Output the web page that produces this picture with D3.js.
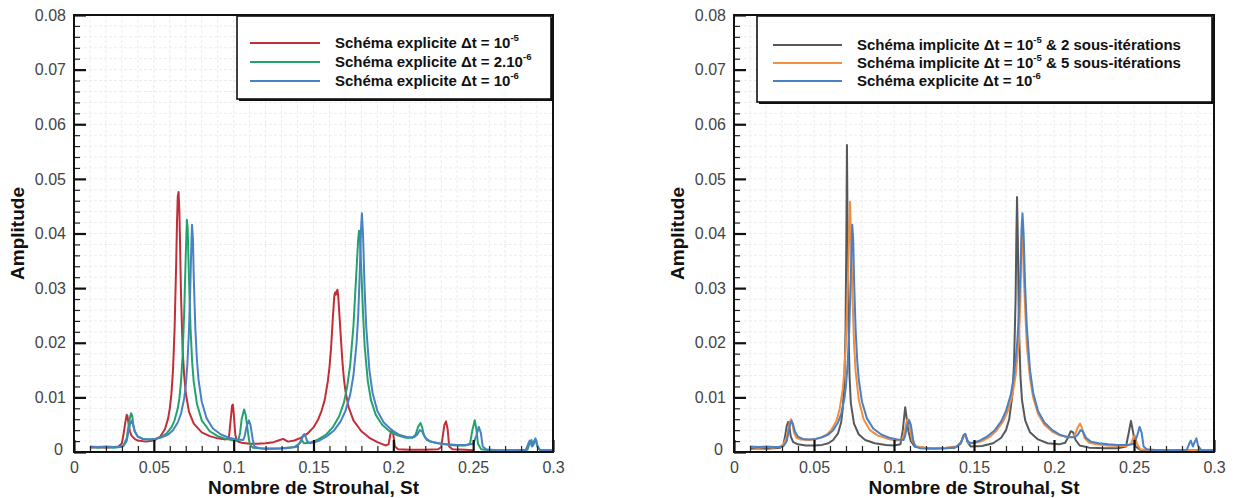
<!DOCTYPE html>
<html><head><meta charset="utf-8">
<script src="https://cdn.jsdelivr.net/npm/d3@7"></script>
<style>html,body{margin:0;padding:0;background:#fff;}svg{display:block;font-family:"Liberation Sans",Arial,sans-serif;}</style>
</head><body><svg id="c" width="1235" height="498"></svg>
<script>
// ---------- DATA ----------
const xTickValues = [0, 0.05, 0.1, 0.15, 0.2, 0.25, 0.3];
const xTickLabels = ["0", "0.05", "0.1", "0.15", "0.2", "0.25", "0.3"];
const yTickValues = [0, 0.01, 0.02, 0.03, 0.04, 0.05, 0.06, 0.07, 0.08];
const yTickLabels = ["0", "0.01", "0.02", "0.03", "0.04", "0.05", "0.06", "0.07", "0.08"];
const xTitle = "Nombre de Strouhal, St";
const yTitle = "Amplitude";

// Left panel: explicit scheme, Δt = 1e-5
const explicit1e5 = [[0.010,0.0008],[0.015,0.0009],[0.020,0.0008],[0.025,0.0009],[0.028,0.0010],[0.030,0.0016],[0.031,0.0032],[0.032,0.0052],[0.033,0.0068],[0.0335,0.0066],[0.034,0.0055],[0.035,0.0038],[0.036,0.0030],[0.038,0.0024],[0.040,0.0021],[0.045,0.0019],[0.050,0.0021],[0.054,0.0028],[0.057,0.0042],[0.059,0.0062],[0.060,0.0080],[0.061,0.0106],[0.062,0.0150],[0.063,0.0225],[0.064,0.0345],[0.0645,0.0420],[0.065,0.0468],[0.0655,0.0476],[0.066,0.0440],[0.0665,0.0370],[0.067,0.0290],[0.068,0.0190],[0.069,0.0140],[0.070,0.0108],[0.072,0.0074],[0.075,0.0052],[0.080,0.0036],[0.085,0.0029],[0.090,0.0025],[0.095,0.0023],[0.097,0.0026],[0.098,0.0055],[0.099,0.0085],[0.0995,0.0087],[0.100,0.0072],[0.101,0.0032],[0.102,0.0020],[0.105,0.0017],[0.110,0.0015],[0.115,0.0015],[0.120,0.0016],[0.125,0.0018],[0.128,0.0021],[0.131,0.0024],[0.134,0.0019],[0.138,0.0021],[0.142,0.0026],[0.146,0.0033],[0.150,0.0045],[0.153,0.0060],[0.155,0.0075],[0.157,0.0095],[0.159,0.0130],[0.160,0.0155],[0.161,0.0190],[0.162,0.0240],[0.163,0.0285],[0.1635,0.0292],[0.164,0.0288],[0.1645,0.0294],[0.165,0.0297],[0.1655,0.0285],[0.166,0.0262],[0.167,0.0215],[0.168,0.0170],[0.169,0.0135],[0.170,0.0112],[0.172,0.0082],[0.175,0.0058],[0.180,0.0038],[0.185,0.0026],[0.190,0.0018],[0.195,0.0012],[0.197,0.0014],[0.198,0.0030],[0.199,0.0041],[0.200,0.0032],[0.201,0.0010],[0.203,0.0005],[0.210,0.0004],[0.220,0.0004],[0.228,0.0005],[0.230,0.0009],[0.231,0.0030],[0.232,0.0050],[0.233,0.0056],[0.234,0.0042],[0.235,0.0010],[0.237,0.0005],[0.245,0.0004],[0.250,0.0003]];

// Left panel: explicit scheme, Δt = 2e-6
const explicit2e6 = [[0.010,0.0009],[0.015,0.0008],[0.020,0.0009],[0.025,0.0008],[0.029,0.0009],[0.031,0.0012],[0.033,0.0025],[0.034,0.0045],[0.035,0.0062],[0.0357,0.0071],[0.0365,0.0066],[0.037,0.0052],[0.038,0.0038],[0.040,0.0028],[0.043,0.0024],[0.047,0.0023],[0.051,0.0024],[0.055,0.0028],[0.058,0.0034],[0.061,0.0045],[0.063,0.0058],[0.065,0.0080],[0.066,0.0098],[0.067,0.0128],[0.068,0.0175],[0.069,0.0255],[0.070,0.0360],[0.0707,0.0425],[0.0712,0.0410],[0.072,0.0320],[0.073,0.0225],[0.074,0.0165],[0.075,0.0128],[0.077,0.0088],[0.080,0.0058],[0.085,0.0038],[0.090,0.0029],[0.095,0.0024],[0.100,0.0021],[0.103,0.0022],[0.104,0.0035],[0.105,0.0060],[0.1065,0.0078],[0.1075,0.0068],[0.109,0.0035],[0.110,0.0015],[0.112,0.0008],[0.120,0.0006],[0.130,0.0007],[0.138,0.0009],[0.141,0.0015],[0.1425,0.0023],[0.144,0.0016],[0.148,0.0017],[0.153,0.0023],[0.158,0.0032],[0.162,0.0045],[0.166,0.0065],[0.169,0.0090],[0.171,0.0118],[0.173,0.0160],[0.175,0.0230],[0.1765,0.0310],[0.178,0.0390],[0.1785,0.0405],[0.179,0.0395],[0.180,0.0330],[0.181,0.0255],[0.182,0.0195],[0.184,0.0130],[0.186,0.0095],[0.189,0.0068],[0.193,0.0050],[0.198,0.0037],[0.203,0.0030],[0.208,0.0026],[0.212,0.0026],[0.214,0.0032],[0.2155,0.0046],[0.217,0.0053],[0.218,0.0046],[0.219,0.0032],[0.221,0.0022],[0.225,0.0018],[0.230,0.0015],[0.235,0.0013],[0.240,0.0012],[0.245,0.0012],[0.248,0.0015],[0.2495,0.0040],[0.251,0.0058],[0.252,0.0042],[0.253,0.0015],[0.255,0.0005],[0.260,0.0003],[0.270,0.0003],[0.280,0.0003],[0.284,0.0004],[0.2855,0.0018],[0.2865,0.0022],[0.2875,0.0012],[0.2885,0.0018],[0.2895,0.0022],[0.2905,0.0008],[0.292,0.0003],[0.300,0.0003]];

// Both panels: explicit scheme, Δt = 1e-6
const explicit1e6 = [[0.010,0.0010],[0.015,0.0009],[0.020,0.0010],[0.025,0.0009],[0.029,0.0009],[0.031,0.0011],[0.033,0.0020],[0.034,0.0035],[0.035,0.0050],[0.036,0.0057],[0.037,0.0050],[0.038,0.0038],[0.040,0.0028],[0.043,0.0024],[0.047,0.0023],[0.051,0.0024],[0.055,0.0027],[0.059,0.0032],[0.062,0.0040],[0.065,0.0054],[0.067,0.0070],[0.069,0.0098],[0.070,0.0122],[0.071,0.0160],[0.072,0.0222],[0.073,0.0320],[0.0735,0.0380],[0.0739,0.0416],[0.0745,0.0390],[0.075,0.0320],[0.076,0.0225],[0.077,0.0168],[0.078,0.0132],[0.080,0.0092],[0.083,0.0062],[0.087,0.0043],[0.092,0.0032],[0.097,0.0026],[0.102,0.0023],[0.106,0.0022],[0.107,0.0030],[0.108,0.0046],[0.1095,0.0058],[0.1105,0.0050],[0.112,0.0022],[0.113,0.0010],[0.116,0.0007],[0.125,0.0006],[0.133,0.0007],[0.139,0.0009],[0.142,0.0018],[0.1435,0.0031],[0.1445,0.0033],[0.146,0.0020],[0.148,0.0016],[0.153,0.0020],[0.158,0.0028],[0.163,0.0040],[0.167,0.0056],[0.170,0.0075],[0.173,0.0105],[0.175,0.0140],[0.177,0.0200],[0.178,0.0250],[0.179,0.0330],[0.1798,0.0410],[0.1803,0.0437],[0.181,0.0400],[0.182,0.0300],[0.183,0.0230],[0.185,0.0150],[0.187,0.0108],[0.190,0.0075],[0.194,0.0054],[0.199,0.0040],[0.204,0.0031],[0.209,0.0027],[0.213,0.0027],[0.215,0.0032],[0.2165,0.0040],[0.218,0.0038],[0.220,0.0026],[0.223,0.0019],[0.228,0.0016],[0.234,0.0014],[0.240,0.0013],[0.246,0.0013],[0.250,0.0015],[0.252,0.0030],[0.2535,0.0046],[0.2548,0.0035],[0.256,0.0010],[0.258,0.0005],[0.265,0.0003],[0.275,0.0003],[0.283,0.0004],[0.2845,0.0015],[0.2855,0.0021],[0.2868,0.0010],[0.288,0.0019],[0.289,0.0025],[0.290,0.0012],[0.292,0.0003],[0.300,0.0003]];

// Right panel: implicit scheme, Δt = 1e-5, 2 sub-iterations
const implicit2 = [[0.010,0.0006],[0.015,0.0007],[0.020,0.0006],[0.025,0.0007],[0.029,0.0008],[0.031,0.0015],[0.032,0.0030],[0.033,0.0048],[0.0338,0.0055],[0.0345,0.0048],[0.0355,0.0028],[0.037,0.0018],[0.040,0.0014],[0.045,0.0012],[0.050,0.0012],[0.055,0.0013],[0.059,0.0016],[0.062,0.0022],[0.065,0.0034],[0.067,0.0055],[0.068,0.0080],[0.069,0.0130],[0.0697,0.0220],[0.0702,0.0380],[0.0706,0.0562],[0.0710,0.0400],[0.0715,0.0240],[0.0722,0.0140],[0.073,0.0090],[0.075,0.0052],[0.078,0.0032],[0.082,0.0022],[0.088,0.0016],[0.095,0.0013],[0.100,0.0012],[0.104,0.0014],[0.1055,0.0040],[0.107,0.0082],[0.108,0.0060],[0.109,0.0038],[0.1105,0.0020],[0.113,0.0010],[0.120,0.0007],[0.130,0.0007],[0.138,0.0008],[0.1415,0.0015],[0.1435,0.0030],[0.1445,0.0033],[0.146,0.0018],[0.148,0.0010],[0.155,0.0011],[0.162,0.0016],[0.167,0.0026],[0.170,0.0040],[0.172,0.0060],[0.174,0.0105],[0.175,0.0160],[0.176,0.0280],[0.1765,0.0400],[0.1769,0.0467],[0.1774,0.0390],[0.178,0.0240],[0.179,0.0140],[0.180,0.0095],[0.182,0.0058],[0.185,0.0036],[0.190,0.0023],[0.196,0.0016],[0.203,0.0014],[0.207,0.0017],[0.209,0.0028],[0.2105,0.0038],[0.212,0.0036],[0.2135,0.0022],[0.216,0.0012],[0.222,0.0008],[0.232,0.0007],[0.240,0.0007],[0.245,0.0010],[0.2465,0.0032],[0.2481,0.0057],[0.2495,0.0035],[0.251,0.0010],[0.254,0.0004],[0.262,0.0003],[0.272,0.0003],[0.282,0.0003],[0.290,0.0003],[0.300,0.0003]];

// Right panel: implicit scheme, Δt = 1e-5, 5 sub-iterations
const implicit5 = [[0.010,0.0009],[0.015,0.0008],[0.020,0.0009],[0.025,0.0008],[0.029,0.0010],[0.031,0.0014],[0.033,0.0028],[0.034,0.0045],[0.035,0.0056],[0.0357,0.0060],[0.0365,0.0052],[0.0375,0.0035],[0.039,0.0026],[0.042,0.0023],[0.046,0.0022],[0.050,0.0023],[0.054,0.0026],[0.058,0.0032],[0.061,0.0041],[0.064,0.0057],[0.066,0.0078],[0.068,0.0115],[0.069,0.0150],[0.070,0.0205],[0.071,0.0290],[0.072,0.0400],[0.0725,0.0458],[0.073,0.0410],[0.074,0.0290],[0.075,0.0200],[0.076,0.0148],[0.078,0.0095],[0.081,0.0060],[0.085,0.0040],[0.090,0.0030],[0.096,0.0024],[0.101,0.0021],[0.105,0.0022],[0.1065,0.0035],[0.108,0.0058],[0.109,0.0060],[0.110,0.0042],[0.1115,0.0020],[0.114,0.0010],[0.122,0.0007],[0.132,0.0008],[0.139,0.0010],[0.142,0.0018],[0.1438,0.0030],[0.145,0.0028],[0.1465,0.0017],[0.150,0.0016],[0.155,0.0020],[0.160,0.0028],[0.164,0.0039],[0.168,0.0055],[0.171,0.0074],[0.174,0.0104],[0.176,0.0140],[0.178,0.0200],[0.179,0.0280],[0.1795,0.0360],[0.1800,0.0425],[0.1805,0.0400],[0.181,0.0330],[0.182,0.0260],[0.183,0.0195],[0.185,0.0135],[0.187,0.0100],[0.190,0.0070],[0.194,0.0050],[0.199,0.0037],[0.204,0.0030],[0.209,0.0027],[0.212,0.0028],[0.2135,0.0034],[0.2148,0.0045],[0.2163,0.0052],[0.2175,0.0044],[0.219,0.0026],[0.222,0.0017],[0.227,0.0014],[0.233,0.0012],[0.240,0.0011],[0.245,0.0011],[0.248,0.0014],[0.2495,0.0026],[0.2505,0.0030],[0.252,0.0014],[0.254,0.0005],[0.260,0.0003],[0.270,0.0003],[0.280,0.0003],[0.290,0.0003],[0.300,0.0003]];

const leftSeries = [
  {name: "Schéma explicite Δt = 10", sup: "-5", rest: "", data: explicit1e5, color: "#c22e38"},
  {name: "Schéma explicite Δt = 2.10", sup: "-6", rest: "", data: explicit2e6, color: "#22a36c"},
  {name: "Schéma explicite Δt = 10", sup: "-6", rest: "", data: explicit1e6, color: "#4a80c4"}
];
const rightSeries = [
  {name: "Schéma implicite Δt = 10", sup: "-5", rest: " & 2 sous-itérations", data: implicit2, color: "#55595c"},
  {name: "Schéma implicite Δt = 10", sup: "-5", rest: " & 5 sous-itérations", data: implicit5, color: "#f28e3e"},
  {name: "Schéma explicite Δt = 10", sup: "-6", rest: "", data: explicit1e6, color: "#4a80c4"}
];

// ---------- DRAW ----------
const svg = d3.select("#c");

function panel(id, box, series, leg) {
  const x = d3.scaleLinear().domain([0, 0.3]).range([box.x0, box.x1]);
  const y = d3.scaleLinear().domain([0, 0.08]).range([box.y1, box.y0]);
  const g = svg.append("g");

  // faint grid
  const gx = d3.range(0, 31).map(i => i / 100);
  const gy = d3.range(0, 41).map(i => i * 0.002);
  g.append("g").selectAll("line").data(gx).join("line")
    .attr("x1", d => x(d)).attr("x2", d => x(d)).attr("y1", box.y0).attr("y2", box.y1)
    .attr("stroke", "#ececec").attr("stroke-width", 1).attr("stroke-dasharray", "3,2");
  g.append("g").selectAll("line").data(gy).join("line")
    .attr("x1", box.x0).attr("x2", box.x1).attr("y1", d => y(d)).attr("y2", d => y(d))
    .attr("stroke", "#ececec").attr("stroke-width", 1).attr("stroke-dasharray", "3,2");

  // curves
  const clipId = "clip" + id;
  svg.append("clipPath").attr("id", clipId).append("rect")
    .attr("x", box.x0).attr("y", box.y0).attr("width", box.x1 - box.x0).attr("height", box.y1 - box.y0);
  const line = d3.line().x(d => x(d[0])).y(d => y(d[1]));
  const lg = g.append("g").attr("clip-path", `url(#${clipId})`);
  series.forEach(s => {
    lg.append("path").attr("d", line(s.data)).attr("fill", "none")
      .attr("stroke", s.color).attr("stroke-width", 2).attr("stroke-linejoin", "round");
  });

  // axes: minor ticks
  const minorX = d3.range(0, 31).map(i => i / 100).filter(v => Math.round(v * 1000) % 50 !== 0);
  const minorY = d3.range(0, 41).map(i => i * 0.002).filter((v, i) => i % 5 !== 0);
  g.append("g").attr("transform", `translate(0,${box.y1})`)
    .call(d3.axisBottom(x).tickValues(minorX).tickSize(-6).tickFormat(""))
    .call(a => a.select(".domain").remove())
    .selectAll("line").attr("stroke", "#222").attr("stroke-width", 1.2);
  g.append("g").attr("transform", `translate(${box.x0},0)`)
    .call(d3.axisLeft(y).tickValues(minorY).tickSize(-6).tickFormat(""))
    .call(a => a.select(".domain").remove())
    .selectAll("line").attr("stroke", "#222").attr("stroke-width", 1.2);

  // major ticks + labels
  const ax = g.append("g").attr("transform", `translate(0,${box.y1})`)
    .call(d3.axisBottom(x).tickValues(xTickValues).tickSize(-12).tickPadding(10)
      .tickFormat((d, i) => xTickLabels[i]));
  ax.select(".domain").remove();
  ax.selectAll("line").attr("stroke", "#111").attr("stroke-width", 2.2);
  ax.selectAll("text").attr("font-size", 16).attr("fill", "#444")
    .attr("font-family", "Liberation Sans, Arial, sans-serif");
  const ay = g.append("g").attr("transform", `translate(${box.x0},0)`)
    .call(d3.axisLeft(y).tickValues(yTickValues).tickSize(-12).tickPadding(8)
      .tickFormat((d, i) => yTickLabels[i]));
  ay.select(".domain").remove();
  ay.selectAll("line").attr("stroke", "#111").attr("stroke-width", 2.2);
  ay.selectAll("text").attr("font-size", 16).attr("fill", "#444")
    .attr("font-family", "Liberation Sans, Arial, sans-serif");
  ay.selectAll(".tick").filter(d => d === 0).select("text").attr("dy", "0.15em").attr("x", -11);

  // frame
  g.append("rect").attr("x", box.x0).attr("y", box.y0)
    .attr("width", box.x1 - box.x0).attr("height", box.y1 - box.y0)
    .attr("fill", "none").attr("stroke", "#111").attr("stroke-width", 2);

  // titles
  g.append("text").attr("x", (box.x0 + box.x1) / 2).attr("y", 494)
    .attr("text-anchor", "middle").attr("font-size", 19).attr("font-weight", "bold")
    .attr("fill", "#111").text(xTitle);
  g.append("text").attr("transform", `translate(${box.x0 - 50},${(box.y0 + box.y1) / 2}) rotate(-90)`)
    .attr("text-anchor", "middle").attr("font-size", 19).attr("font-weight", "bold")
    .attr("fill", "#111").text(yTitle);

  // legend
  const L = g.append("g");
  L.append("rect").attr("x", leg.x0 + 2).attr("y", leg.y0 + 2).attr("width", leg.x1 - leg.x0).attr("height", leg.y1 - leg.y0)
    .attr("fill", "#111");
  L.append("rect").attr("x", leg.x0).attr("y", leg.y0).attr("width", leg.x1 - leg.x0).attr("height", leg.y1 - leg.y0)
    .attr("fill", "#fff").attr("stroke", "#111").attr("stroke-width", 1.6);
  series.forEach((s, i) => {
    const ry = leg.rows[i];
    L.append("line").attr("x1", leg.lx0).attr("x2", leg.lx1).attr("y1", ry).attr("y2", ry)
      .attr("stroke", s.color).attr("stroke-width", 2);
    const t = L.append("text").attr("x", leg.tx).attr("y", ry + 5)
      .attr("font-size", 15).attr("font-weight", "bold").attr("fill", "#111");
    t.append("tspan").text(s.name);
    t.append("tspan").attr("dy", -7).attr("font-size", 9.5).text(s.sup);
    if (s.rest) t.append("tspan").attr("dy", 7).text(s.rest);
  });
}

panel("L", {x0: 74, x1: 553, y0: 15, y1: 452}, leftSeries,
  {x0: 237, x1: 551, y0: 16, y1: 99, lx0: 250, lx1: 320, tx: 335, rows: [43, 62, 81]});
panel("R", {x0: 734, x1: 1214, y0: 15, y1: 452}, rightSeries,
  {x0: 757, x1: 1212, y0: 16, y1: 102, lx0: 773, lx1: 842, tx: 857, rows: [45, 63, 81]});
</script>
</body></html>
